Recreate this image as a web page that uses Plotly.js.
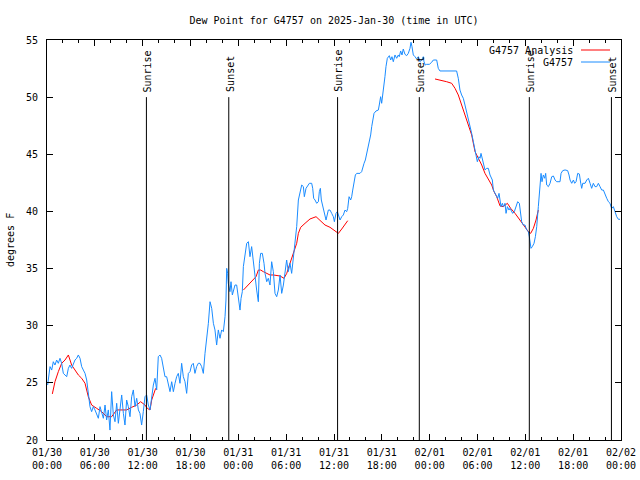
<!DOCTYPE html>
<html>
<head>
<meta charset="utf-8">
<script src="https://cdn.plot.ly/plotly-3.0.1.min.js"></script>
<style>html,body{margin:0;padding:0;background:#fff;}#chart{width:640px;height:480px;}</style>
</head>
<body>
<div id="chart"></div>
<script>
// Hours since 2025-01-30 00:00 UTC, station observations (G4757)
const obsHours = [
0.08,0.38,0.59,0.79,1.0,1.21,1.42,1.63,1.84,2.05,2.26,2.47,2.68,2.88,3.09,3.3,3.51,3.72,3.93,4.14,4.35,4.56,4.77,4.98,5.18,5.39,5.6,5.81,6.02,6.23,6.44,6.65,6.86,7.07,7.28,7.48,7.69,7.9,8.11,8.32,8.53,8.74,8.95,9.16,9.37,9.58,9.78,9.99,10.2,10.41,10.62,10.83,11.04,11.25,11.46,11.66,11.87,12.08,12.29,12.5,12.71,12.92,13.13,13.34,13.55,13.76,13.96,14.17,14.38,14.59,14.8,15.01,15.22,15.43,15.64,15.85,16.06,16.26,16.47,16.68,16.89,17.1,17.31,17.52,17.73,17.94,18.14,18.35,18.56,18.77,18.98,
19.19,19.4,19.61,19.82,20.03,20.24,20.45,20.66,20.87,21.07,21.28,21.49,21.7,21.91,22.12,22.33,22.45,22.54,22.66,22.74,22.95,23.08,23.25,23.37,23.58,23.79,24.0,24.21,24.34,24.5,24.63,24.84,25.05,25.26,25.46,25.67,25.88,26.09,26.3,26.51,26.64,26.8,27.01,27.22,27.35,27.56,27.76,27.97,28.18,28.39,28.6,28.81,29.02,29.23,29.44,29.65,29.85,30.06,30.27,30.48,30.69,30.9,31.11,
31.32,31.53,31.74,31.95,32.16,32.28,32.49,32.66,32.91,33.2,33.33,33.45,33.62,33.83,34.04,34.16,34.29,34.41,34.58,34.75,35.0,35.29,35.5,35.71,35.92,36.05,36.25,36.42,36.55,36.76,36.97,37.17,37.38,37.59,37.72,37.89,38.09,38.22,38.35,38.51,38.68,38.85,39.26,39.47,39.6,39.77,39.93,40.1,40.31,40.44,40.6,40.73,
40.85,41.02,41.27,41.56,41.68,41.85,41.98,42.1,42.27,42.39,42.52,42.69,42.94,43.11,43.27,43.44,43.65,43.86,44.07,44.19,44.36,44.53,44.69,44.9,45.11,45.32,45.53,45.66,45.78,45.95,46.16,46.37,46.58,46.79,47.0,47.2,47.29,47.45,47.62,47.96,48.25,48.46,48.88,49.08,49.29,50.13,50.97,51.38,51.59,51.8,52.01,52.22,52.43,52.64,52.85,53.06,53.27,53.48,
53.69,53.9,53.98,54.19,54.32,54.44,54.61,54.73,54.94,55.15,55.36,55.57,55.7,55.86,55.99,56.2,56.41,56.53,56.7,56.83,56.95,57.12,57.24,57.45,57.58,57.75,57.95,58.08,58.29,58.41,58.62,58.83,59.04,59.25,59.38,59.54,59.75,59.96,60.17,60.38,60.5,60.59,60.71,60.88,61.09,61.26,61.43,61.63,61.84,61.97,62.09,62.26,62.43,62.55,62.68,62.89,
63.1,63.31,63.52,63.73,63.93,64.35,64.48,64.69,64.98,65.31,65.48,65.61,65.82,66.03,66.19,66.36,66.57,66.78,66.95,67.07,67.2,67.49,67.7,67.91,68.12,68.32,68.53,68.74,68.95,69.16,69.37,69.58,69.79,70.0,70.21,70.42,70.62,70.83,71.04,71.25,71.46,71.67,71.88
];
const obsDewF = [
24.81,26.42,26.12,26.85,26.56,27.0,26.71,27.15,26.71,25.83,25.69,25.54,26.27,26.56,26.27,26.71,27.0,27.15,27.44,27.15,26.42,26.12,25.83,25.25,24.08,22.92,22.48,22.92,22.63,22.33,21.9,22.92,22.33,21.9,23.06,21.75,22.63,20.87,24.23,22.19,21.6,23.21,21.46,22.63,23.94,22.33,21.31,23.5,22.92,22.04,23.79,24.38,22.92,23.65,22.63,22.33,21.31,22.48,23.79,23.94,23.06,22.63,23.79,24.81,25.4,24.38,27.29,27.44,27.15,26.42,25.54,25.54,24.96,24.23,25.1,24.23,24.96,25.54,25.83,24.96,26.71,25.54,25.1,24.08,25.83,25.98,26.56,26.71,25.83,26.42,26.71,
26.71,26.42,25.83,27.58,28.75,30.21,32.1,31.52,30.21,29.63,28.31,29.63,28.9,29.63,29.48,30.79,32.25,35.02,34.58,33.71,32.98,33.85,32.69,33.12,33.56,33.56,32.39,31.37,32.39,32.98,35.17,36.48,37.21,37.35,36.04,36.92,35.46,34.58,33.12,32.1,35.46,36.33,36.33,35.46,34.58,33.85,34.15,33.56,35.6,34.73,32.83,32.54,33.12,34.44,32.83,33.56,34.58,35.75,34.73,35.46,34.58,36.04,37.21,
38.67,41.0,41.73,42.31,42.17,41.29,42.02,42.17,42.46,42.46,42.02,41.15,41.0,40.71,40.85,41.73,42.02,41.0,40.42,40.12,39.25,40.12,40.12,39.83,39.54,39.1,39.83,39.98,39.69,39.25,39.54,39.69,40.12,39.98,40.27,41.29,41.0,41.29,41.87,42.75,43.19,43.33,43.33,43.48,43.92,44.21,44.5,45.08,45.67,45.96,46.69,47.42,
47.85,48.58,48.79,48.87,49.31,50.04,49.46,50.04,51.06,51.79,52.67,53.4,53.63,53.25,53.54,53.1,53.69,53.4,53.69,53.54,54.04,53.69,54.21,53.75,53.63,53.83,54.27,54.8,54.42,53.69,53.54,53.34,53.54,53.1,53.25,53.54,53.1,52.81,52.87,52.87,53.05,53.25,53.25,52.52,52.29,52.29,52.29,52.29,51.65,50.62,50.19,49.9,49.31,48.73,48.15,47.42,46.83,46.1,
45.37,44.79,44.35,44.79,44.65,45.08,44.5,44.21,43.63,43.77,43.77,43.19,43.04,42.75,41.87,41.58,41.29,41.15,41.58,40.85,40.42,40.71,40.42,40.71,39.83,40.42,40.12,40.27,39.98,39.83,39.98,40.42,40.85,40.71,39.83,39.1,38.81,38.81,38.37,38.23,37.79,37.21,36.77,36.92,37.21,37.79,38.67,40.42,42.46,43.33,42.6,43.19,42.9,43.33,42.31,42.17,
42.46,43.04,43.1,42.75,42.6,42.6,43.33,43.57,43.63,43.57,43.19,42.75,42.46,42.75,42.46,42.6,43.33,43.27,42.46,42.02,42.46,42.46,42.75,42.9,42.46,42.02,42.46,42.17,42.17,42.46,42.17,41.87,41.87,41.58,41.15,40.85,40.71,40.27,40.42,39.98,39.54,39.31,39.31
];
// Analysis series (null = gap)
const anaHours = [
0.67,1.0,1.42,1.84,2.26,2.68,3.09,3.51,3.93,4.35,4.77,5.18,5.6,6.23,6.86,7.48,8.11,8.74,9.37,9.99,10.62,11.25,11.75,12.29,12.58,12.92,13.13,13.42,13.63,
18.0,
24.63,25.05,25.46,25.88,26.22,26.51,26.8,27.14,27.56,27.97,28.39,28.81,29.23,29.73,30.07,30.48,30.9,31.32,31.53,31.82,32.37,32.99,33.75,34.25,34.87,35.5,36.13,36.55,36.97,37.38,37.72,
43.0,
48.67,49.29,50.13,50.76,51.18,51.59,52.01,52.43,52.85,53.27,53.69,54.11,54.53,54.94,55.36,55.78,56.07,56.41,56.83,57.24,57.75,58.16,58.71,59.33,59.96,60.38,60.67,61.01,61.34,61.63
];
const anaDewF = [
24.03,25.1,25.98,26.71,27.0,27.44,26.56,26.12,25.69,25.4,24.96,23.79,23.06,22.77,22.48,22.04,22.04,22.63,22.63,22.63,22.86,23.06,23.35,23.06,22.77,22.63,23.5,24.08,24.52,
null,
33.12,33.42,33.71,34.0,34.29,34.87,34.87,34.73,34.58,34.44,34.44,34.38,34.35,34.15,34.58,35.46,36.33,37.21,38.08,38.61,38.96,39.34,39.54,39.25,38.81,38.61,38.32,38.08,38.46,38.87,39.19,
null,
51.59,51.5,51.35,51.21,50.77,50.19,49.31,48.44,47.56,46.69,45.23,44.65,44.06,43.33,42.75,42.31,41.73,41.29,40.48,40.42,40.71,40.27,39.83,39.25,38.67,38.23,38.08,38.52,39.25,40.12
];
// Sunrise / sunset markers (hours since start)
const eventHours = [12.47, 22.8, 36.45, 46.7, 60.5, 70.8];
const eventLabels = ['Sunrise','Sunset','Sunrise','Sunset','Sunrise','Sunset'];
const xTickStart = 0, xTickEnd = 72;
const legendNames = ['G4757 Analysis','G4757'];

const BASE = Date.UTC(2025,0,30,0,0,0);
function hToDate(h){
  const d = new Date(BASE + Math.round(h*3600000));
  return d.toISOString().replace('T',' ').slice(0,19);
}
const FONT = 'DejaVu Sans Mono, Liberation Mono, monospace';
const BLUE = '#1a8cff', RED = '#ff0000';

const traces = [
  {x: anaHours.map(hToDate), y: anaDewF, type:'scatter', mode:'lines', name: legendNames[0],
   line:{color:RED, width:1}, connectgaps:false},
  {x: obsHours.map(hToDate), y: obsDewF, type:'scatter', mode:'lines', name: legendNames[1],
   line:{color:BLUE, width:1}}
];

const shapes = [];
const annotations = [];
eventHours.forEach((h,i)=>{
  shapes.push({type:'line', xref:'x', yref:'y', x0:hToDate(h), x1:hToDate(h), y0:20, y1:50,
    line:{color:'#000', width:1}});
  annotations.push({xref:'x', yref:'y', x:hToDate(h), y:50, text:eventLabels[i], textangle:-90,
    showarrow:false, xanchor:'center', yanchor:'bottom', yshift:3, xshift:1,
    font:{family:FONT, size:10, color:'#000'}});
});
// y axis title
annotations.push({xref:'paper', yref:'paper', x:(10-47)/574, y:0.5, text:'degrees F', textangle:-90,
  showarrow:false, xanchor:'center', yanchor:'middle', font:{family:FONT, size:10, color:'#000'}});
// custom legend (text right, sample line at right)
const legY = [(440-50)/400, (440-62)/400];
const legCol = [RED, BLUE];
legendNames.forEach((n,i)=>{
  annotations.push({xref:'paper', yref:'paper', x:(575-47)/574, y:legY[i], text:n, showarrow:false,
    xanchor:'right', yanchor:'middle', font:{family:FONT, size:10, color:'#000'}});
  shapes.push({type:'line', xref:'paper', yref:'paper', x0:(581-47)/574, x1:(610-47)/574, y0:legY[i], y1:legY[i],
    line:{color:legCol[i], width:1}});
});

const layout = {
  width:640, height:480,
  margin:{l:47, r:19, t:40, b:40, pad:0},
  paper_bgcolor:'#ffffff', plot_bgcolor:'#ffffff',
  font:{family:FONT, size:10, color:'#000'},
  showlegend:false,
  title:{text:'Dew Point for G4757 on 2025-Jan-30 (time in UTC)', x:(334)/640, xanchor:'center',
    y:1-20/480, yanchor:'middle', yref:'container', font:{family:FONT, size:10, color:'#000'}},
  xaxis:{type:'date', range:[hToDate(xTickStart), hToDate(xTickEnd)], tickmode:'linear',
    tick0:hToDate(xTickStart), dtick:6*3600000, tickformat:'%m/%d<br>%H:%M',
    ticks:'inside', ticklen:6, tickwidth:1, tickcolor:'#000', ticklabelstandoff:3,
    showline:true, linecolor:'#000', linewidth:1, mirror:'ticks',
    showgrid:false, zeroline:false, fixedrange:true,
    tickfont:{family:FONT, size:10, color:'#000'},
    minor:{ticks:'inside', ticklen:3, tickwidth:1, tickcolor:'#000', dtick:2*3600000, tick0:hToDate(xTickStart), showgrid:false}},
  yaxis:{range:[20,55], tickmode:'linear', tick0:20, dtick:5,
    ticks:'inside', ticklen:6, tickwidth:1, tickcolor:'#000', ticklabelstandoff:6,
    showline:true, linecolor:'#000', linewidth:1, mirror:'ticks',
    showgrid:false, zeroline:false, fixedrange:true,
    tickfont:{family:FONT, size:10, color:'#000'}},
  shapes: shapes,
  annotations: annotations
};

Plotly.newPlot('chart', traces, layout, {displayModeBar:false, staticPlot:true});
</script>
</body>
</html>
